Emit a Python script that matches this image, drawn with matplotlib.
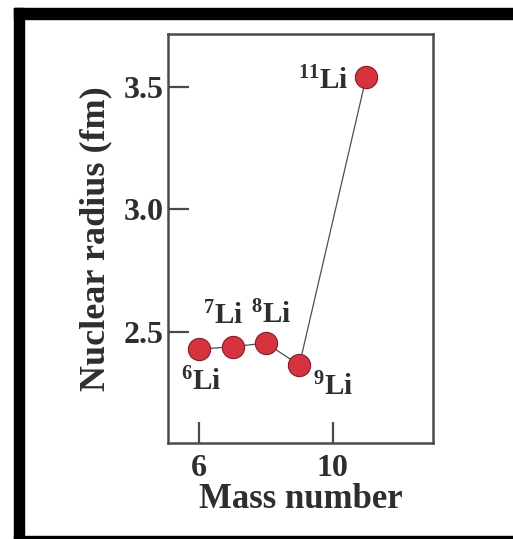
import numpy as np
import matplotlib
matplotlib.use('Agg')
from matplotlib import pyplot as plt
from matplotlib.patches import Rectangle

# lithium isotopes: mass number vs nuclear radius (fm)
mass_number = [6, 7, 8, 9, 11]
radius_fm = [2.43, 2.44, 2.455, 2.365, 3.54]
labels = [r'$^{6}$Li', r'$^{7}$Li', r'$^{8}$Li', r'$^{9}$Li', r'$^{11}$Li']
# label offsets in points relative to each point
label_offsets = [(1.5, -24), (-6.5, 22), (3.5, 20), (24, -16), (-31, -3)]

x_ticks = [6, 10]
y_ticks = [2.5, 3.0, 3.5]

plt.rcParams['font.family'] = ['Liberation Serif', 'DejaVu Serif']
plt.rcParams['mathtext.fontset'] = 'custom'
plt.rcParams['mathtext.rm'] = 'Liberation Serif:bold'
plt.rcParams['mathtext.it'] = 'Liberation Serif:bold'
plt.rcParams['mathtext.bf'] = 'Liberation Serif:bold'

txt_color = '#2e2e2e'
spine_color = '#4a4a4a'

fig = plt.figure(figsize=(5.13, 5.39), dpi=100)
ax = fig.add_axes([0.3275, 0.178, 0.5166, 0.759])

ax.plot(mass_number, radius_fm, '-', color='#4d4d4d', linewidth=0.9, zorder=2)
ax.plot(mass_number, radius_fm, 'o', markersize=16, markerfacecolor='#d8323f',
        markeredgecolor='#8a1a22', markeredgewidth=0.8, zorder=3)

for x, y, lab, off in zip(mass_number, radius_fm, labels, label_offsets):
    ax.annotate(lab, (x, y), xytext=off, textcoords='offset points',
                ha='center', va='center', fontsize=21, fontweight='bold',
                color=txt_color)

ax.set_xlim(5.07, 13.0)
ax.set_ylim(2.047, 3.716)
ax.set_xticks(x_ticks)
ax.set_yticks(y_ticks)
ax.set_xticklabels([str(t) for t in x_ticks])
ax.set_yticklabels(['%.1f' % t for t in y_ticks])
ax.tick_params(direction='in', length=15, width=1.6, color=spine_color,
               labelsize=23, labelcolor=txt_color)
for lab in ax.get_xticklabels() + ax.get_yticklabels():
    lab.set_fontweight('bold')
ax.tick_params(axis='x', pad=8)
ax.tick_params(axis='y', pad=3)

for sp in ax.spines.values():
    sp.set_color(spine_color)
    sp.set_linewidth(1.8)

ax.set_xlabel('Mass number', fontsize=25, fontweight='bold', color=txt_color,
              labelpad=0)
ax.set_ylabel('Nuclear radius (fm)', fontsize=26, fontweight='bold',
              color=txt_color, labelpad=8)

# black frame around the picture (left, top, bottom)
fig.add_artist(Rectangle((14 / 513, 0), 10 / 513, 531 / 539, transform=fig.transFigure,
                         color='black', zorder=10))
fig.add_artist(Rectangle((14 / 513, 520 / 539), 499 / 513, 11 / 539, transform=fig.transFigure,
                         color='black', zorder=10))
fig.add_artist(Rectangle((14 / 513, 0), 499 / 513, 3 / 539, transform=fig.transFigure,
                         color='black', zorder=10))

fig.savefig('out.png', dpi=100)
